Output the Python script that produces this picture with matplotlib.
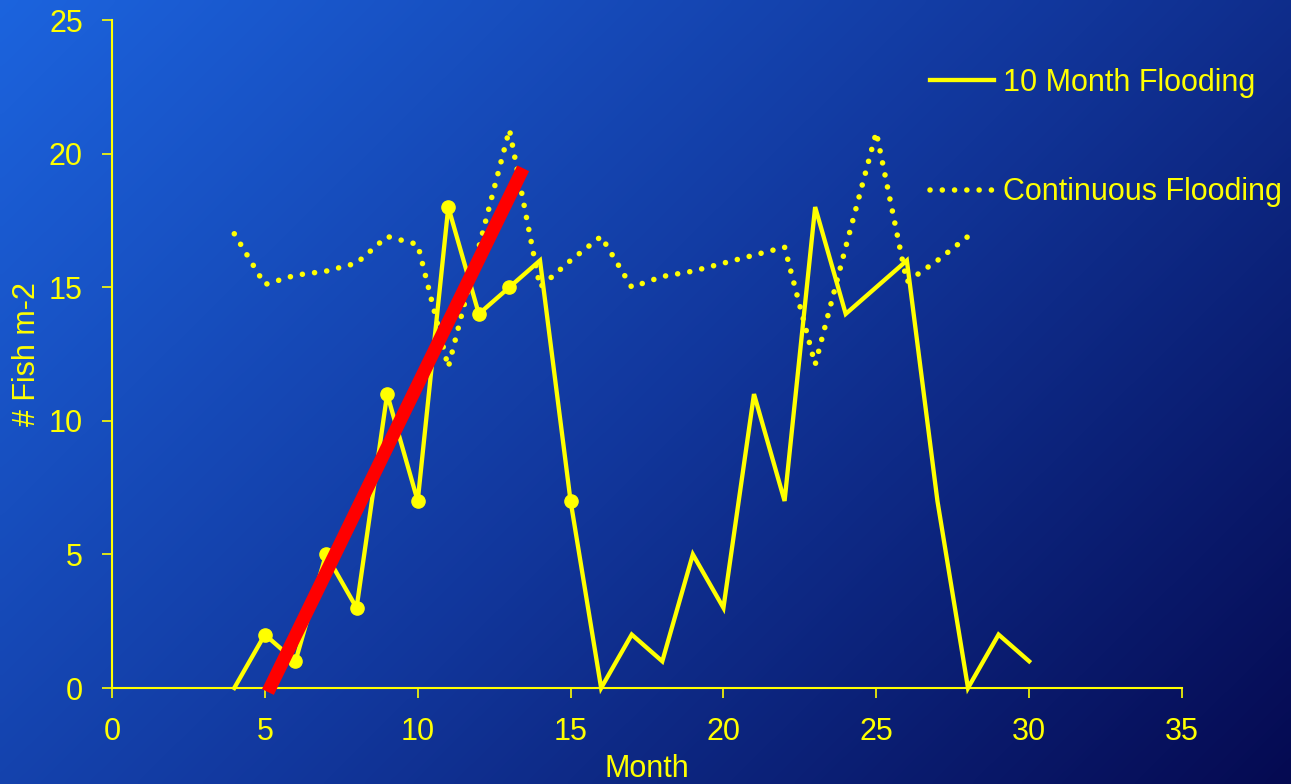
import numpy as np
import matplotlib
matplotlib.use("Agg")
import matplotlib.pyplot as plt
from matplotlib.colors import LinearSegmentedColormap
from matplotlib.lines import Line2D

# ---- data ----
months_10 = [4, 5, 6, 7, 8, 9, 10, 11, 12, 13, 14, 15, 16, 17, 18, 19, 20,
             21, 22, 23, 24, 25, 26, 27, 28, 29, 30]
fish_10 = [0, 2, 1, 5, 3, 11, 7, 18, 14, 15, 16, 7, 0, 2, 1, 5, 3,
           11, 7, 18, 14, 15, 16, 7, 0, 2, 1]
months_cont = [4, 5, 6, 7, 8, 9, 10, 11, 12, 13, 14, 15, 16, 17, 18, 19, 20,
               21, 22, 23, 24, 25, 26, 27, 28]
fish_cont = [17.0, 15.1, 15.45, 15.6, 15.9, 16.9, 16.6, 12.0, 16.5, 20.9, 15.0,
             16.0, 16.9, 15.0, 15.4, 15.6, 15.9, 16.2, 16.5, 12.1, 16.5, 20.8,
             15.2, 16.0, 16.9]
trend_x = [5.1, 13.45]
trend_y = [-0.15, 19.45]
x_ticks = [0, 5, 10, 15, 20, 25, 30, 35]
y_ticks = [0, 5, 10, 15, 20, 25]
label_10 = "10 Month Flooding"
label_cont = "Continuous Flooding"

YEL = "#FFFF00"
plt.rcParams['font.family'] = ['Liberation Sans', 'DejaVu Sans']

W, H = 1291, 784
fig = plt.figure(figsize=(W / 100, H / 100), dpi=100)

# gradient background
bg = fig.add_axes([0, 0, 1, 1], zorder=-10)
bg.set_axis_off()
yy, xx = np.mgrid[0:1:200j, 0:1:330j]
t = (xx * 0.62 + yy * 0.38)
cmap = LinearSegmentedColormap.from_list(
    "bg", [(0.0, (0.11, 0.39, 0.87)), (0.5, (0.07, 0.22, 0.62)),
           (1.0, (0.02, 0.04, 0.32))])
bg.imshow(t, cmap=cmap, aspect='auto', extent=[0, 1, 0, 1], origin='upper',
          vmin=0, vmax=1, interpolation='bicubic')
bg.set_xlim(0, 1)
bg.set_ylim(0, 1)

ax = fig.add_axes([112 / W, 1 - 688 / H, (1182 - 112) / W, (688 - 20) / H])
ax.patch.set_alpha(0)

DOT = (0, (0.01, 2.2))
markidx = [1, 2, 3, 4, 5, 6, 7, 8, 9, 11]
ax.plot(months_10, fish_10, color=YEL, lw=3.1, marker='o', ms=9.5,
        markevery=markidx, clip_on=False, solid_joinstyle='miter',
        label=label_10, zorder=3)
ax.plot(months_cont, fish_cont, color=YEL, lw=4.0, linestyle=DOT,
        dash_capstyle='round', clip_on=False, label=label_cont, zorder=3)
ax.plot(trend_x, trend_y, color='#FF0000', lw=9.5, solid_capstyle='butt',
        clip_on=False, zorder=4)

ax.set_xlim(0, 35)
ax.set_ylim(0, 25)
ax.set_xticks(x_ticks)
ax.set_yticks(y_ticks)
for s in ['top', 'right']:
    ax.spines[s].set_visible(False)
for s in ['left', 'bottom']:
    ax.spines[s].set_color(YEL)
    ax.spines[s].set_linewidth(1.5)
ax.tick_params(axis='both', colors=YEL, direction='out', length=7, width=1.2,
               labelsize=22, pad=14)
ax.set_xlabel("Month", color=YEL, fontsize=22, labelpad=5)
ax.set_ylabel("# Fish m-2", color=YEL, fontsize=22, labelpad=5)

# legend handles (no markers)
h1 = Line2D([], [], color=YEL, lw=3.1)
h2 = Line2D([], [], color=YEL, lw=4.0, linestyle=DOT, dash_capstyle='round')
leg = fig.legend([h1, h2], [label_10, label_cont], loc='upper left',
                 bbox_to_anchor=(930 / W, 1 - 68 / H), frameon=False,
                 fontsize=22, handlelength=2.1, handletextpad=0.3,
                 labelspacing=2.6, borderaxespad=0, borderpad=0)
for txt in leg.get_texts():
    txt.set_color(YEL)

fig.savefig("out.png", dpi=100)
